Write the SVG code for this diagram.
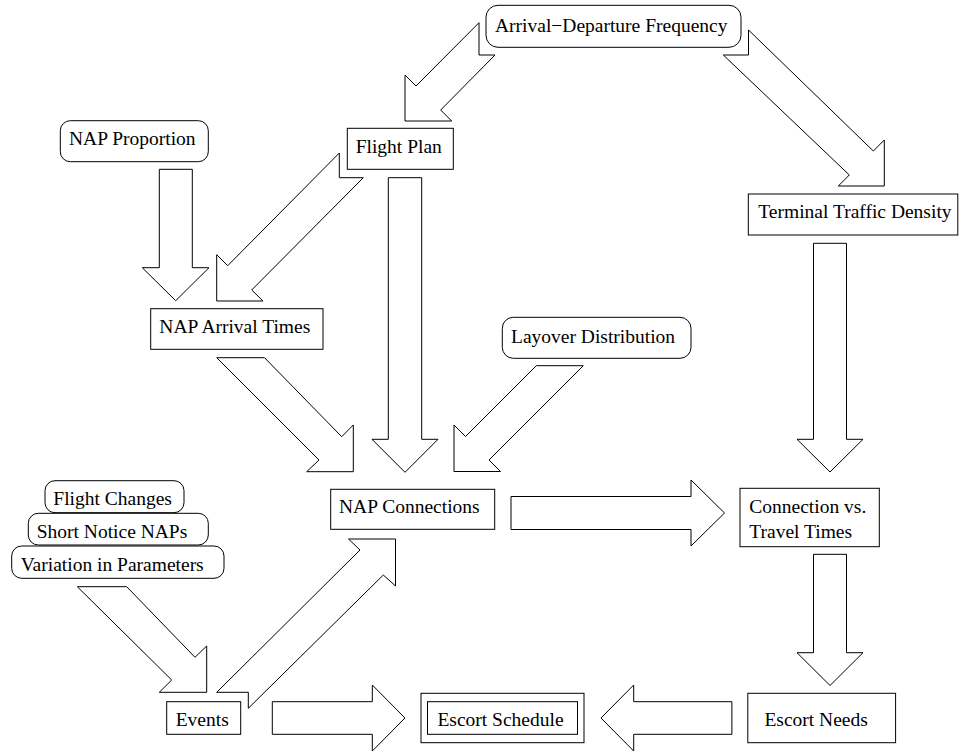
<svg xmlns="http://www.w3.org/2000/svg" width="961" height="752" viewBox="0 0 961 752">
<style>
.bg{fill:#fff}
.box{fill:#fff;stroke:#000;stroke-width:1}
.arr{fill:#fff;stroke:#000;stroke-width:1;stroke-linejoin:miter}
text{font-family:"Liberation Serif","Times New Roman",serif;font-size:19.5px;fill:#000}
</style>
<rect class="bg" x="0" y="0" width="961" height="752"/>
<g id="connectors">
<polygon class="arr" points="479,22.7 416,86 405,75 405,121 451.7,121 440.7,110 495,55 479,55"/>
<polygon class="arr" points="748.5,30 873.3,151 884.3,140 884.3,186 838.3,186 849.3,175 723.3,55 748.5,55"/>
<polygon class="arr" points="339.3,153 227.7,265.7 216.7,254.7 216.7,301 263,301 251.7,290 363.3,177.7 339.3,177.7"/>
<polygon class="arr" points="216.7,357.7 264.5,357.7 341.7,436.7 353.3,425 353.3,471.7 306.7,471.7 319,460"/>
<polygon class="arr" points="536.3,365.7 583.3,365.7 489,460 500.5,471.5 454,471.5 454,425 465.5,436.5"/>
<polygon class="arr" points="77.3,586.7 126.7,586.7 195,657.3 206.7,646 206.7,692.3 159.3,692.3 171.7,680"/>
<polygon class="arr" points="216.7,692.3 360,550 348.5,539 395.5,539 395.5,586 383.3,575 248.3,708.3 248.3,692.3"/>
<polygon class="arr" points="159.3,169.3 192.3,169.3 192.3,267.7 209,267.7 175.7,300.7 142.3,267.7 159.3,267.7"/>
<polygon class="arr" points="388.3,177.7 421.7,177.7 421.7,439.3 438,439.3 405,472.3 372,439.3 388.3,439.3"/>
<polygon class="arr" points="813.5,243.3 846.5,243.3 846.5,439.3 863,439.3 830,472 797,439.3 813.5,439.3"/>
<polygon class="arr" points="813.5,554.3 846.5,554.3 846.5,652.7 863,652.7 830,685.5 797,652.7 813.5,652.7"/>
<polygon class="arr" points="511,496.5 691,496.5 691,480 724.5,513 691,546 691,529.5 511,529.5"/>
<polygon class="arr" points="272.3,701.7 372.3,701.7 372.3,685 405,718 372.3,751 372.3,734.3 272.3,734.3"/>
<polygon class="arr" points="731.9,701.7 633.7,701.7 633.7,685 601,718 633.7,751 633.7,734.3 731.9,734.3"/>
</g>
<g id="arrival-departure">
<rect class="box" x="486" y="5.3" width="255" height="42" rx="12"/>
<text x="495" y="31.7">Arrival−Departure Frequency</text>
</g>
<g id="flight-plan">
<rect class="box" x="347.3" y="128.3" width="106" height="41"/>
<text x="355.7" y="152.7">Flight Plan</text>
</g>
<g id="nap-proportion">
<rect class="box" x="60.3" y="120.7" width="148" height="41" rx="10"/>
<text x="69" y="145">NAP Proportion</text>
</g>
<g id="terminal-traffic">
<rect class="box" x="748.3" y="194" width="209.5" height="41"/>
<text x="758.3" y="218.3">Terminal Traffic Density</text>
</g>
<g id="nap-arrival">
<rect class="box" x="150.7" y="308.7" width="172.3" height="40.6"/>
<text x="159.3" y="332.7">NAP Arrival Times</text>
</g>
<g id="layover">
<rect class="box" x="502.3" y="317.3" width="188.7" height="41" rx="11"/>
<text x="511" y="342.7">Layover Distribution</text>
</g>
<g id="nap-connections">
<rect class="box" x="330.7" y="489.3" width="164" height="40"/>
<text x="339" y="512.7">NAP Connections</text>
</g>
<g id="connection-travel">
<rect class="box" x="740" y="488.3" width="139.3" height="58.4"/>
<text x="749.3" y="513.3">Connection vs.</text>
<text x="749.3" y="538.3">Travel Times</text>
</g>
<g id="flight-changes">
<rect class="box" x="45" y="480.7" width="139" height="32" rx="10"/>
<text x="53.3" y="505">Flight Changes</text>
</g>
<g id="short-notice">
<rect class="box" x="28.3" y="513.3" width="180" height="31.7" rx="10"/>
<text x="36.7" y="537.7">Short Notice NAPs</text>
</g>
<g id="variation">
<rect class="box" x="11.7" y="546" width="212.3" height="32.3" rx="10"/>
<text x="20.7" y="570.7">Variation in Parameters</text>
</g>
<g id="events">
<rect class="box" x="166.7" y="701.7" width="74" height="32.6"/>
<text x="175.7" y="725.7">Events</text>
</g>
<g id="escort-schedule">
<rect class="box" x="421" y="693.3" width="163" height="49.4"/>
<rect class="box" x="427.5" y="701.7" width="150" height="32.6"/>
<text x="437.4" y="725.7">Escort Schedule</text>
</g>
<g id="escort-needs">
<rect class="box" x="747.8" y="693.3" width="147.8" height="49.4"/>
<text x="764.4" y="725.7">Escort Needs</text>
</g>
</svg>
